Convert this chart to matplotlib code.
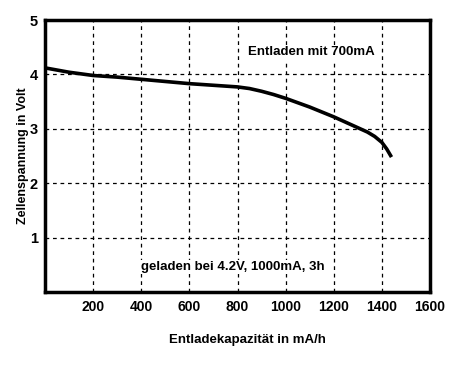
import numpy as np
import matplotlib.pyplot as plt

kapazitaet = [0, 100, 200, 300, 400, 500, 600, 700, 800, 850, 900, 950, 1000, 1100, 1200,
              1250, 1300, 1340, 1370, 1400, 1420, 1440]
spannung = [4.12, 4.04, 3.98, 3.95, 3.91, 3.87, 3.83, 3.8, 3.77, 3.74, 3.69, 3.63, 3.56, 3.40, 3.22,
            3.12, 3.02, 2.94, 2.86, 2.75, 2.63, 2.48]

x_ticks = [200, 400, 600, 800, 1000, 1200, 1400, 1600]
y_ticks = [1, 2, 3, 4, 5]

plt.rcParams['font.family'] = ['Liberation Sans', 'DejaVu Sans']
plt.rcParams['font.weight'] = 'bold'
plt.rcParams['font.size'] = 9.5

fig = plt.figure(figsize=(4.61, 3.72), dpi=100)
ax = fig.add_axes([45 / 461, 1 - 292 / 372, 385 / 461, 272 / 372])

ax.plot(kapazitaet, spannung, color='black', linewidth=2.6, solid_capstyle='butt',
        solid_joinstyle='round')

ax.set_xlim(0, 1600)
ax.set_ylim(0, 5)
ax.set_xticks(x_ticks)
ax.set_yticks(y_ticks)
ax.set_xticklabels([str(t) for t in x_ticks], fontweight='bold', fontsize=10)
ax.set_yticklabels([str(t) for t in y_ticks], fontweight='bold', fontsize=10.5)
ax.tick_params(axis='x', length=0, pad=6)
ax.tick_params(axis='y', length=0, pad=5)
ax.grid(True, color='black', linestyle=(0, (3, 3)), linewidth=0.9)

for s in ax.spines.values():
    s.set_linewidth(2.5)

ax.set_xlabel('Entladekapazität in mA/h', fontweight='bold')
ax.set_ylabel('Zellenspannung in Volt', fontweight='bold', fontsize=9)
ax.xaxis.set_label_coords(0.525, -0.153)
ax.yaxis.set_label_coords(-0.042, 0.5)

ax.text(1105, 4.41, 'Entladen mit 700mA', ha='center', va='center', fontweight='bold',
        bbox=dict(facecolor='white', edgecolor='none', pad=1))
ax.text(400, 0.46, 'geladen bei 4.2V, 1000mA, 3h', ha='left', va='center', fontweight='bold',
        bbox=dict(facecolor='white', edgecolor='none', pad=1))

fig.savefig('out.png', dpi=100)
